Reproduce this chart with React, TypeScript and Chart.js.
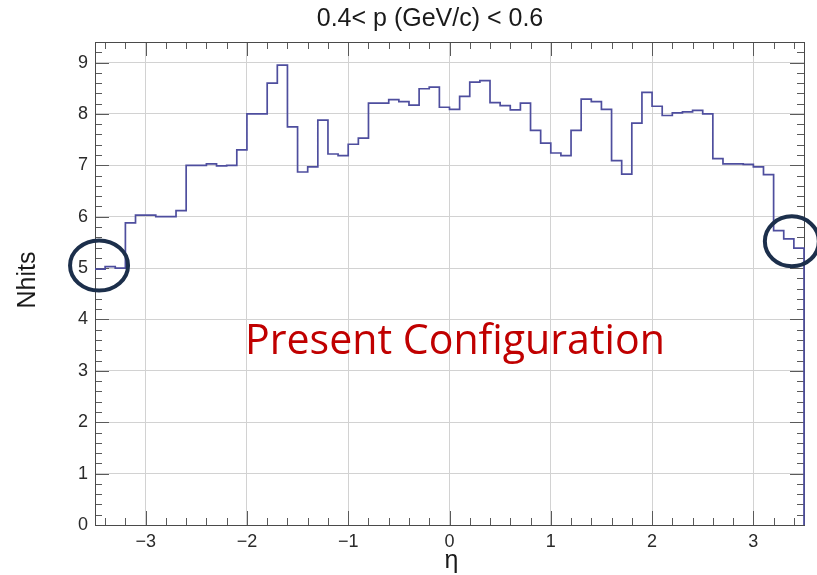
import React, { useEffect, useRef } from "react";
import { Chart, registerables } from "chart.js";

Chart.register(...registerables);

// Histogram definition: 70 bins of width 0.1 from eta = -3.5 to 3.5
const binLow = -3.5;
const binWidth = 0.1;
const nhits = [
  4.98, 5.03, 5.0, 5.88, 6.03, 6.03, 6.0, 6.0, 6.12, 7.0,
  7.0, 7.03, 6.99, 7.0, 7.3, 8.0, 8.0, 8.6, 8.95, 7.75,
  6.87, 6.97, 7.88, 7.22, 7.19, 7.41, 7.53, 8.21, 8.21, 8.28,
  8.24, 8.17, 8.49, 8.52, 8.13, 8.09, 8.34, 8.62, 8.65, 8.22,
  8.16, 8.08, 8.21, 7.68, 7.43, 7.24, 7.19, 7.68, 8.29, 8.24,
  8.09, 7.09, 6.83, 7.82, 8.42, 8.15, 7.97, 8.02, 8.04, 8.07,
  8.0, 7.13, 7.03, 7.03, 7.02, 6.97, 6.82, 5.73, 5.57, 5.39,
];
const xTickLabels = [-3, -2, -1, 0, 1, 2, 3];
const yTickLabels = [0, 1, 2, 3, 4, 5, 6, 7, 8, 9];
const xRange = [-3.5, 3.5];
const yRange = [0, 9.4];
const titleText = "0.4< p (GeV/c) < 0.6";
const xTitle = "η";
const yTitle = "Nhits";
const overlayText = "Present Configuration";
// highlighted regions (data coords)
const highlights = [
  { x: -3.46, y: 5.05 },
  { x: 3.38, y: 5.52 },
];

const FONT = "'Liberation Sans', Arial, Helvetica, sans-serif";

function fmt(v: number) {
  return v < 0 ? "\u2212" + Math.abs(v) : String(v);
}

export default function App() {
  const ref = useRef<HTMLCanvasElement | null>(null);

  useEffect(() => {
    if (!ref.current) return;
    const pts: { x: number; y: number }[] = [];
    nhits.forEach((v, i) => pts.push({ x: binLow + i * binWidth, y: v }));
    const hiEdge = binLow + nhits.length * binWidth;
    pts.push({ x: hiEdge, y: nhits[nhits.length - 1] });
    pts.push({ x: hiEdge, y: 0 });

    const framePlugin = {
      id: "rootFrame",
      beforeDatasetsDraw(chart: any) {
        const { ctx, chartArea: a, scales } = chart;
        const xs = scales.x;
        const ys = scales.y;
        ctx.save();
        ctx.strokeStyle = "#5a5a5a";
        ctx.lineWidth = 1;
        for (let k = -20; k <= 20; k++) {
          const v = k * 0.2;
          if (v <= xRange[0] || v >= xRange[1]) continue;
          const major = Math.abs(v - Math.round(v)) < 1e-6;
          const len = major ? 14 : 7;
          const px = Math.round(xs.getPixelForValue(v)) + 0.5;
          ctx.beginPath();
          ctx.moveTo(px, a.bottom);
          ctx.lineTo(px, a.bottom - len);
          ctx.moveTo(px, a.top);
          ctx.lineTo(px, a.top + len);
          ctx.stroke();
        }
        for (let k = 0; k <= 47; k++) {
          const v = k * 0.2;
          if (v <= yRange[0] || v >= yRange[1]) continue;
          const major = Math.abs(v - Math.round(v)) < 1e-6;
          const len = major ? 14 : 7;
          const py = Math.round(ys.getPixelForValue(v)) + 0.5;
          ctx.beginPath();
          ctx.moveTo(a.left, py);
          ctx.lineTo(a.left + len, py);
          ctx.moveTo(a.right, py);
          ctx.lineTo(a.right - len, py);
          ctx.stroke();
        }
        ctx.strokeStyle = "#4a4a4a";
        ctx.strokeRect(Math.round(a.left) + 0.5, Math.round(a.top) + 0.5, Math.round(a.right - a.left), Math.round(a.bottom - a.top));
        ctx.restore();
      },
      afterDraw(chart: any) {
        const { ctx, chartArea: a, scales } = chart;
        const xs = scales.x;
        const ys = scales.y;
        ctx.save();
        // title
        ctx.fillStyle = "#1a1a1a";
        ctx.font = `25px ${FONT}`;
        ctx.textAlign = "center";
        ctx.textBaseline = "middle";
        ctx.fillText(titleText, 430, 19);
        // x title
        ctx.font = `25px ${FONT}`;
        ctx.fillText(xTitle, (a.left + a.right) / 2 + 2, 561);
        // y title
        ctx.save();
        ctx.translate(28, 280);
        ctx.rotate(-Math.PI / 2);
        ctx.font = `25px ${FONT}`;
        ctx.fillText(yTitle, 0, 0);
        ctx.restore();
        // overlay text
        ctx.fillStyle = "#c00000";
        const fam = "'Open Sans', 'Noto Sans', sans-serif";
        ctx.font = `36px ${fam}`;
        const w = ctx.measureText(overlayText).width;
        const size = (36 * 420) / w;
        ctx.font = `${size}px ${fam}`;
        ctx.textAlign = "left";
        ctx.textBaseline = "alphabetic";
        ctx.fillText(overlayText, 245, 354);
        // highlight ellipses
        ctx.strokeStyle = "#1c2f4b";
        ctx.lineWidth = 4;
        highlights.forEach((h, i) => {
          const cx = xs.getPixelForValue(h.x);
          const cy = ys.getPixelForValue(h.y);
          ctx.beginPath();
          ctx.ellipse(cx, cy, i === 0 ? 29 : 27, 25, 0, 0, Math.PI * 2);
          ctx.stroke();
        });
        ctx.restore();
      },
    };

    const chart = new Chart(ref.current, {
      type: "line",
      data: {
        datasets: [
          {
            data: pts,
            stepped: "before",
            borderColor: "rgb(78,78,158)",
            borderWidth: 1.7,
            pointRadius: 0,
            fill: false,
            tension: 0,
            clip: 3,
          } as any,
        ],
      },
      options: {
        animation: false,
        responsive: false,
        devicePixelRatio: 1,
        layout: { padding: { left: 0, top: 42, right: 13, bottom: 0 } },
        plugins: {
          legend: { display: false },
          tooltip: { enabled: false },
          title: { display: false },
        },
        scales: {
          x: {
            type: "linear",
            min: xRange[0],
            max: xRange[1],
            afterBuildTicks: (s: any) => {
              s.ticks = xTickLabels.map((v) => ({ value: v }));
            },
            afterFit: (s: any) => {
              s.height = 50;
            },
            grid: { color: "#d2d2d2", lineWidth: 1, drawTicks: false },
            border: { display: false },
            ticks: {
              padding: 6,
              color: "#2a2a2a",
              font: { size: 18, family: FONT },
              maxRotation: 0,
              callback: (v: any) => fmt(Number(v)),
            },
          },
          y: {
            type: "linear",
            min: yRange[0],
            max: yRange[1],
            afterBuildTicks: (s: any) => {
              s.ticks = yTickLabels.map((v) => ({ value: v }));
            },
            afterFit: (s: any) => {
              s.width = 95;
            },
            grid: { color: "#d2d2d2", lineWidth: 1, drawTicks: false },
            border: { display: false },
            ticks: {
              padding: 7,
              color: "#2a2a2a",
              font: { size: 18, family: FONT },
              callback: (v: any) => fmt(Number(v)),
            },
          },
        },
      } as any,
      plugins: [framePlugin],
    });
    return () => chart.destroy();
  }, []);

  return (
    <div style={{ position: "fixed", left: 0, top: 0, width: 817, height: 575, background: "#fff" }}>
      <canvas ref={ref} width={817} height={575} style={{ width: 817, height: 575, display: "block" }} />
    </div>
  );
}
